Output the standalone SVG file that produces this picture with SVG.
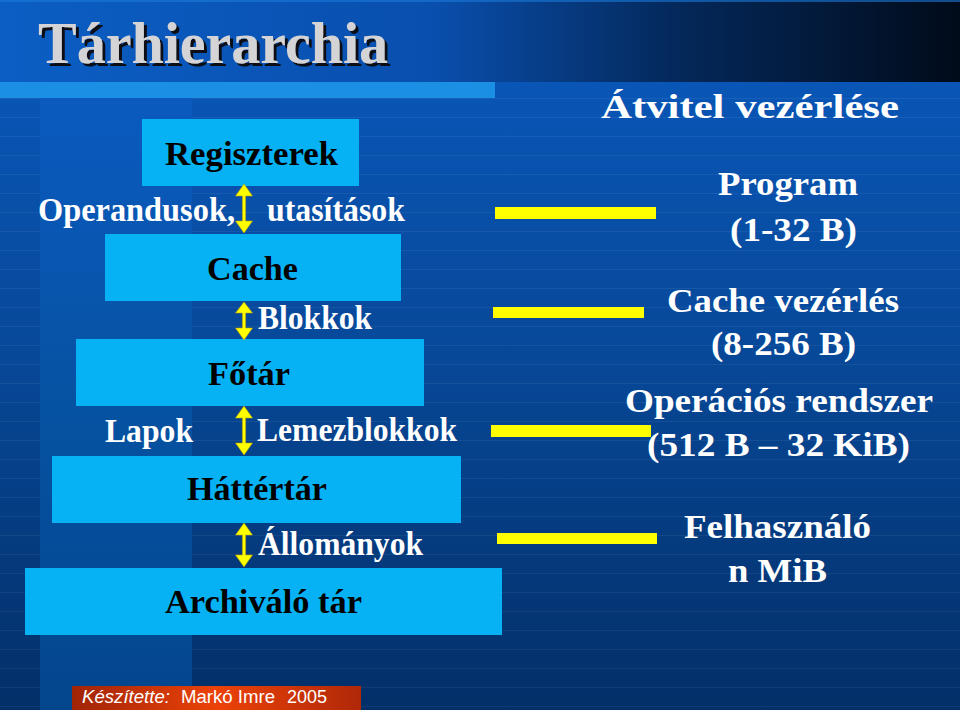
<svg xmlns="http://www.w3.org/2000/svg" width="960" height="710" viewBox="0 0 960 710">
<defs>
<linearGradient id="topband" x1="0" y1="0" x2="1" y2="0">
<stop offset="0" stop-color="#0b5ec4"/>
<stop offset="0.45" stop-color="#094fae"/>
<stop offset="0.7" stop-color="#04295c"/>
<stop offset="1" stop-color="#010b1a"/>
</linearGradient>
<linearGradient id="mainbg" x1="0" y1="0" x2="0" y2="1">
<stop offset="0" stop-color="#0a5abf"/>
<stop offset="0.5" stop-color="#074898"/>
<stop offset="1" stop-color="#032f68"/>
</linearGradient>
<linearGradient id="colbg" x1="0" y1="0" x2="0" y2="1">
<stop offset="0" stop-color="#0a5abf"/>
<stop offset="0.5" stop-color="#0652a2"/>
<stop offset="1" stop-color="#04468e"/>
</linearGradient>
<linearGradient id="footer" x1="0" y1="0" x2="1" y2="0">
<stop offset="0" stop-color="#a02406"/>
<stop offset="0.5" stop-color="#ec4208"/>
<stop offset="1" stop-color="#b02808"/>
</linearGradient>
<pattern id="lines" x="0" y="98" width="960" height="19" patternUnits="userSpaceOnUse">
<rect x="0" y="0" width="960" height="1" fill="#ffffff" fill-opacity="0.06"/>
</pattern>
<filter id="shadow" x="-5%" y="-20%" width="115%" height="150%">
<feOffset in="SourceAlpha" dx="3" dy="3" result="off"/>
<feFlood flood-color="#0a0f18"/>
<feComposite in2="off" operator="in" result="sh"/>
<feMerge><feMergeNode in="sh"/><feMergeNode in="SourceGraphic"/></feMerge>
</filter>
</defs>
<style>
.box{fill:#06b2f4;}
.boxtxt{font-family:"Liberation Serif","Times New Roman",serif;font-weight:bold;font-size:34px;fill:#000000;}
.lbl{font-family:"Liberation Serif","Times New Roman",serif;font-weight:bold;font-size:34px;fill:#ffffff;}
.bar{fill:#ffff00;}
.arrow{fill:#ffff00;stroke:#b8a000;stroke-width:0.6;}
.foot{font-family:"Liberation Sans",Arial,sans-serif;font-size:18.5px;fill:#ffffff;}
</style>

<!-- background -->
<rect x="0" y="0" width="960" height="710" fill="url(#mainbg)"/>
<rect x="0" y="98" width="960" height="612" fill="url(#lines)"/>
<rect x="40" y="98" width="152" height="612" fill="url(#colbg)"/>
<rect x="0" y="0" width="960" height="82" fill="url(#topband)"/>
<rect x="0" y="0" width="960" height="2" fill="#1a7ad8" fill-opacity="0.6"/>
<rect x="0" y="82" width="495" height="16" fill="#1b8fe3"/>

<!-- title -->
<g id="title">
<text x="38" y="63" font-family="'Liberation Serif','Times New Roman',serif" font-weight="bold" font-size="60" fill="#d4d4d6" textLength="350" lengthAdjust="spacingAndGlyphs" filter="url(#shadow)">Tárhierarchia</text>
</g>
<g id="right-title">
<text class="lbl" x="601" y="118" font-size="44" textLength="298" lengthAdjust="spacingAndGlyphs">Átvitel vezérlése</text>
</g>

<!-- nodes -->
<g id="node-regiszterek">
<rect class="box" x="142" y="119" width="217" height="67"/>
<text class="boxtxt" x="165" y="165" textLength="173" lengthAdjust="spacingAndGlyphs">Regiszterek</text>
</g>
<g id="node-cache">
<rect class="box" x="105" y="234" width="296" height="67"/>
<text class="boxtxt" x="207" y="280" textLength="91" lengthAdjust="spacingAndGlyphs">Cache</text>
</g>
<g id="node-fotar">
<rect class="box" x="76" y="339" width="348" height="67"/>
<text class="boxtxt" x="208" y="385" textLength="82" lengthAdjust="spacingAndGlyphs">Főtár</text>
</g>
<g id="node-hattertar">
<rect class="box" x="52" y="456" width="409" height="67"/>
<text class="boxtxt" x="187" y="500" textLength="140" lengthAdjust="spacingAndGlyphs">Háttértár</text>
</g>
<g id="node-archivalo">
<rect class="box" x="25" y="568" width="477" height="67"/>
<text class="boxtxt" x="165" y="613" textLength="197" lengthAdjust="spacingAndGlyphs">Archiváló tár</text>
</g>

<!-- connectors -->
<g id="connectors">
<path class="arrow" d="M244,184 L252.5,196 L245.6,196 L245.6,221 L252.5,221 L244,233 L235.5,221 L242.4,221 L242.4,196 L235.5,196 Z"/>
<path class="arrow" d="M244,302 L252.5,313 L245.6,313 L245.6,328 L252.5,328 L244,340 L235.5,328 L242.4,328 L242.4,313 L235.5,313 Z"/>
<path class="arrow" d="M244,406 L252.5,418 L245.6,418 L245.6,443 L252.5,443 L244,455 L235.5,443 L242.4,443 L242.4,418 L235.5,418 Z"/>
<path class="arrow" d="M244,523 L252.5,535 L245.6,535 L245.6,555 L252.5,555 L244,567 L235.5,555 L242.4,555 L242.4,535 L235.5,535 Z"/>
<rect class="bar" x="495" y="207" width="161" height="12"/>
<rect class="bar" x="493" y="307" width="151" height="11"/>
<rect class="bar" x="491" y="425" width="160" height="12"/>
<rect class="bar" x="497" y="533" width="160" height="11"/>
</g>

<!-- connector labels -->
<g id="labels">
<text class="lbl" x="38" y="221" textLength="197" lengthAdjust="spacingAndGlyphs">Operandusok,</text>
<text class="lbl" x="267" y="221" textLength="138" lengthAdjust="spacingAndGlyphs">utasítások</text>
<text class="lbl" x="258" y="329" textLength="114" lengthAdjust="spacingAndGlyphs">Blokkok</text>
<text class="lbl" x="105" y="442" textLength="88" lengthAdjust="spacingAndGlyphs">Lapok</text>
<text class="lbl" x="257" y="441" textLength="200" lengthAdjust="spacingAndGlyphs">Lemezblokkok</text>
<text class="lbl" x="258" y="555" textLength="165" lengthAdjust="spacingAndGlyphs">Állományok</text>
</g>

<!-- right side texts -->
<g id="right-program">
<text class="lbl" x="718" y="195" textLength="140" lengthAdjust="spacingAndGlyphs">Program</text>
<text class="lbl" x="730" y="241" textLength="127" lengthAdjust="spacingAndGlyphs">(1-32 B)</text>
</g>
<g id="right-cache">
<text class="lbl" x="667" y="312" textLength="232" lengthAdjust="spacingAndGlyphs">Cache vezérlés</text>
<text class="lbl" x="711" y="355" textLength="145" lengthAdjust="spacingAndGlyphs">(8-256 B)</text>
</g>
<g id="right-os">
<text class="lbl" x="625" y="412" textLength="308" lengthAdjust="spacingAndGlyphs">Operációs rendszer</text>
<text class="lbl" x="647" y="456" textLength="263" lengthAdjust="spacingAndGlyphs">(512 B – 32 KiB)</text>
</g>
<g id="right-user">
<text class="lbl" x="684" y="538" textLength="187" lengthAdjust="spacingAndGlyphs">Felhasználó</text>
<text class="lbl" x="728" y="582" textLength="99" lengthAdjust="spacingAndGlyphs">n MiB</text>
</g>

<!-- footer -->
<g id="footer">
<rect x="72" y="686" width="289" height="24" fill="url(#footer)"/>
<text class="foot" x="82" y="703" font-style="italic" textLength="88" lengthAdjust="spacingAndGlyphs">Készítette:</text>
<text class="foot" x="181" y="703" textLength="94" lengthAdjust="spacingAndGlyphs">Markó Imre</text>
<text class="foot" x="287" y="703" textLength="40" lengthAdjust="spacingAndGlyphs">2005</text>
</g>
</svg>
